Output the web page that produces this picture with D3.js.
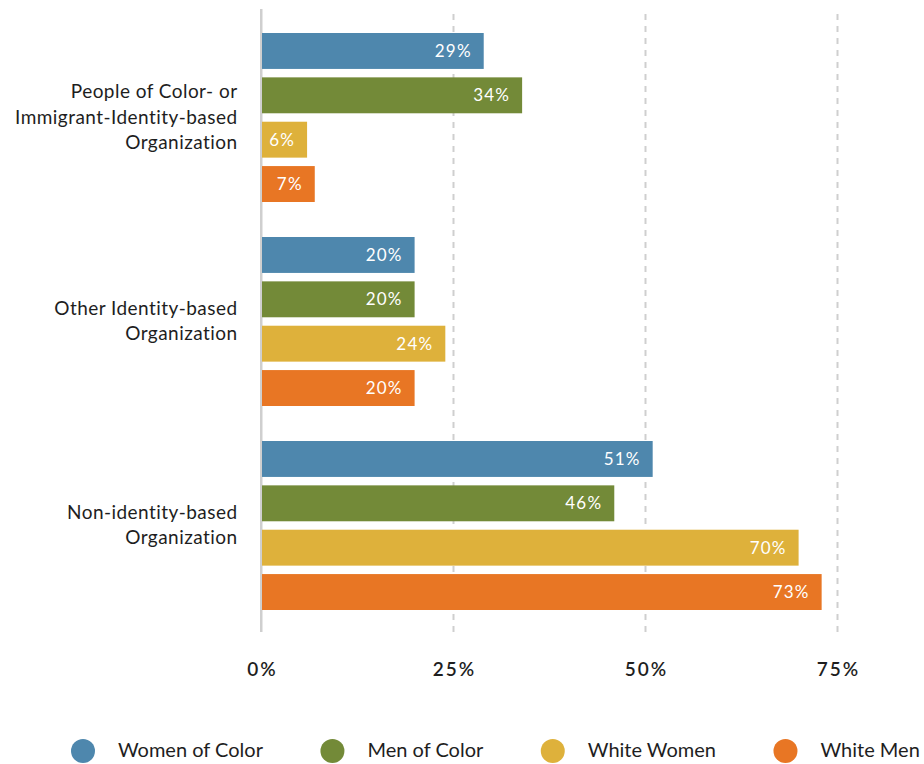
<!DOCTYPE html>
<html lang="en">
<head>
  <meta charset="UTF-8">
  <title>Organization type by race and gender</title>
  <script src="https://cdn.jsdelivr.net/npm/d3@7"></script>
  <style>
    body {
      background: #fff;
      margin: 0;
    }
    text {
      font-variant-ligatures: none;
    }
    .cat, .legend text {
      font-family: Lato, 'Open Sans', sans-serif;
      fill: #1e1e1e;
    }
    .cat {
      letter-spacing: 0.45px;
    }
    .value {
      font-family: Lato, 'Open Sans', sans-serif;
      font-size: 17px;
      letter-spacing: 1.2px;
      fill: #fff;
      text-anchor: end;
    }
    .x-axis text {
      font-family: Lato, 'Open Sans', sans-serif;
      font-size: 19px;
      font-weight: 600;
      letter-spacing: 2px;
      fill: #1e1e1e;
    }
  </style>
</head>
<body>
  <script>
    var categories = [
      "People of Color- or Immigrant-Identity-based Organization",
      "Other Identity-based Organization",
      "Non-identity-based Organization"
    ];
    var categoryLines = [
      ["People of Color- or", "Immigrant-Identity-based", "Organization"],
      ["Other Identity-based", "Organization"],
      ["Non-identity-based", "Organization"]
    ];
    var series = ["Women of Color", "Men of Color", "White Women", "White Men"];
    var colors = ["#4e87ad", "#738a38", "#deb13b", "#e87624"];

    var womenOfColor = [29, 20, 51];
    var menOfColor = [34, 20, 46];
    var whiteWomen = [6, 24, 70];
    var whiteMen = [7, 20, 73];

    var tickValues = [0, 25, 50, 75];

    var values = [womenOfColor, menOfColor, whiteWomen, whiteMen];

    var width = 924, height = 764;

    var svg = d3.select("body").append("svg")
      .attr("width", width)
      .attr("height", height);

    var x = d3.scaleLinear()
      .domain([0, 75])
      .range([261, 837]);

    var y0 = d3.scaleBand()
      .domain(categories)
      .range([15.5, 627.5])
      .paddingInner(0.1716)
      .paddingOuter(0.0858);

    var y1 = d3.scaleBand()
      .domain(series)
      .range([0, y0.bandwidth()])
      .paddingInner(0.19)
      .paddingOuter(0);

    var color = d3.scaleOrdinal()
      .domain(series)
      .range(colors);

    // grid + tick labels
    var axis = svg.append("g")
      .attr("class", "x-axis")
      .attr("transform", "translate(0,632)")
      .call(d3.axisBottom(x)
        .tickValues(tickValues)
        .tickSize(-623)
        .tickPadding(30.5)
        .tickFormat(function(d) { return d + "%"; }));

    axis.select(".domain").remove();
    axis.selectAll(".tick line")
      .attr("stroke", "#cfcfcf")
      .attr("stroke-width", 2)
      .attr("stroke-dasharray", function(d) { return d === 0 ? null : "6,6"; });
    axis.selectAll(".tick text")
      .attr("fill", "#1e1e1e")
      .attr("dx", 1);

    // bars
    var rows = [];
    categories.forEach(function(c, i) {
      series.forEach(function(s, j) {
        rows.push({ cat: c, series: s, value: values[j][i] });
      });
    });

    var bar = svg.append("g")
      .selectAll("g")
      .data(rows)
      .enter()
      .append("g")
      .attr("transform", function(d) {
        return "translate(0," + (y0(d.cat) + y1(d.series)) + ")";
      });

    bar.append("rect")
      .attr("x", x(0))
      .attr("width", function(d) { return x(d.value) - x(0); })
      .attr("height", y1.bandwidth())
      .attr("fill", function(d) { return color(d.series); });

    bar.append("text")
      .attr("class", "value")
      .attr("x", function(d) { return x(d.value) - 12; })
      .attr("y", y1.bandwidth() / 2 + 6)
      .text(function(d) { return d.value + "%"; });

    // redraw zero line on top
    svg.append("line")
      .attr("x1", x(0)).attr("x2", x(0))
      .attr("y1", 9).attr("y2", 632)
      .attr("stroke", "#cfcfcf")
      .attr("stroke-width", 2);

    // category labels
    var lineH = 25.5;
    svg.append("g")
      .selectAll("text")
      .data(categories)
      .enter()
      .append("text")
      .attr("class", "cat")
      .attr("font-size", 19)
      .attr("text-anchor", "end")
      .each(function(c, i) {
        var lines = categoryLines[i];
        var mid = y0(c) + y0.bandwidth() / 2;
        var first = mid - (lines.length - 1) * lineH / 2 + 6;
        d3.select(this).selectAll("tspan")
          .data(lines)
          .enter()
          .append("tspan")
          .attr("x", 237.5)
          .attr("y", function(l, k) { return first + k * lineH; })
          .text(function(l) { return l; });
      });

    // legend
    var legend = svg.append("g").attr("class", "legend");
    var cursor = 71;
    series.forEach(function(s) {
      var item = legend.append("g");
      item.append("circle")
        .attr("cx", cursor + 12)
        .attr("cy", 751)
        .attr("r", 12)
        .attr("fill", color(s));
      var t = item.append("text")
        .attr("x", cursor + 47)
        .attr("y", 757)
        .attr("font-size", 20)
        .text(s);
      cursor = cursor + 47 + t.node().getComputedTextLength() + 57.5;
    });
  </script>
</body>
</html>
